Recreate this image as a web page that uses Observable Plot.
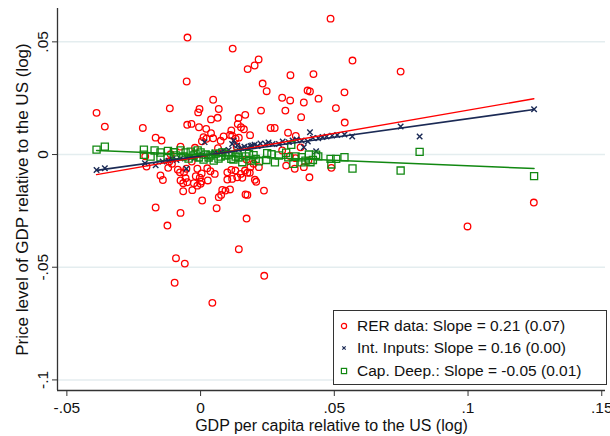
<!DOCTYPE html>
<html>
<head>
<meta charset="utf-8">
<script src="https://cdn.jsdelivr.net/npm/d3@7"></script>
<script src="https://cdn.jsdelivr.net/npm/@observablehq/plot@0.6"></script>
<style>
  html, body { margin: 0; padding: 0; background: #fff; }
  #wrap { position: relative; width: 610px; height: 436px; font-family: "Liberation Sans", Arial, sans-serif; }
  #legend { position: absolute; left: 333px; top: 310px; width: 274px; height: 75px; border: 1px solid #333; background: #fff; box-sizing: border-box; font-size: 15.5px; color: #111; }
  .row { position: absolute; left: 0; height: 20px; line-height: 20px; white-space: nowrap; }
  .row svg { position: absolute; left: 5px; top: 5px; }
  .row span { position: absolute; left: 23px; top: 0; }
</style>
</head>
<body>
<div id="wrap"></div>
<script>
// ---- Data ----
const rerPoints = [[0.0486,0.0603],[-0.0049,0.0519],[0.0120,0.0470],[0.0217,0.0422],[0.0202,0.0395],[0.0568,0.0417],[0.0176,0.0379],[0.0748,0.0368],[0.0336,0.0352],[0.0422,0.0357],[-0.0052,0.0324],[0.0232,0.0315],[0.0247,0.0281],[0.0400,0.0284],[0.0409,0.0280],[0.0538,0.0276],[0.0047,0.0243],[0.0305,0.0252],[0.0335,0.0240],[0.0441,0.0248],[0.0386,0.0231],[-0.0115,0.0205],[-0.0004,0.0202],[-0.0009,0.0187],[0.0068,0.0202],[-0.0389,0.0185],[0.0226,0.0195],[0.0317,0.0195],[0.0506,0.0206],[0.0039,0.0156],[0.0064,0.0163],[0.0167,0.0176],[0.0142,0.0162],[0.0376,0.0166],[0.0539,0.0142],[-0.0358,0.0124],[-0.0216,0.0118],[-0.0050,0.0132],[-0.0034,0.0136],[-0.0006,0.0121],[0.0021,0.0114],[0.0115,0.0107],[0.0139,0.0135],[0.0151,0.0121],[0.0162,0.0112],[0.0262,0.0118],[0.0277,0.0118],[-0.0168,0.0075],[-0.0146,0.0062],[0.0039,0.0095],[0.0011,0.0077],[0.0022,0.0070],[0.0005,0.0059],[0.0047,0.0072],[0.0086,0.0080],[0.0110,0.0087],[0.0118,0.0084],[0.0131,0.0070],[0.0143,0.0075],[0.0075,0.0061],[0.0185,0.0086],[0.0327,0.0097],[0.0356,0.0083],[-0.0075,0.0035],[-0.0021,0.0030],[0.0135,0.0035],[0.0065,0.0028],[0.0305,0.0018],[0.0334,-0.0006],[-0.0112,0.0001],[-0.0207,-0.0008],[0.0374,0.0032],[-0.0117,-0.0031],[-0.0107,-0.0041],[-0.0033,-0.0031],[-0.0202,-0.0053],[-0.0085,-0.0067],[-0.0062,-0.0079],[-0.0012,-0.0063],[0.0004,-0.0084],[0.0025,-0.0061],[0.0037,-0.0074],[0.0053,-0.0086],[0.0100,-0.0079],[0.0115,-0.0068],[0.0130,-0.0071],[0.0150,-0.0086],[0.0175,-0.0081],[-0.0150,-0.0093],[-0.0141,-0.0113],[-0.0075,-0.0115],[-0.0056,-0.0105],[-0.0003,-0.0103],[0.0003,-0.0120],[0.0027,-0.0115],[-0.0012,-0.0138],[0.0100,-0.0111],[0.0118,-0.0108],[0.0137,-0.0101],[0.0156,-0.0103],[-0.0065,-0.0163],[-0.0031,-0.0158],[0.0081,-0.0157],[0.0110,-0.0155],[0.0172,-0.0022],[0.0198,-0.0041],[0.0186,-0.0056],[0.0218,-0.0056],[0.0184,-0.0081],[0.0203,-0.0112],[0.0208,-0.0121],[0.0237,-0.0160],[0.0320,-0.0049],[0.0403,-0.0027],[0.0386,-0.0056],[0.0407,-0.0101],[0.0489,-0.0059],[0.0355,-0.0016],[0.0168,-0.0177],[0.0000,-0.0130],[-0.0025,-0.0127],[-0.0050,-0.0123],[-0.0065,-0.0127],[-0.0121,-0.0059],[-0.0077,-0.0079],[-0.0053,-0.0063],[-0.0018,-0.0096],[0.0006,-0.0204],[0.0068,-0.0189],[0.0077,-0.0179],[0.0093,-0.0160],[0.0175,-0.0179],[-0.0168,-0.0235],[-0.0075,-0.0259],[0.0060,-0.0238],[0.0172,-0.0284],[-0.0124,-0.0315],[0.0143,-0.0420],[-0.0092,-0.0460],[-0.0059,-0.0484],[0.0238,-0.0538],[-0.0097,-0.0569],[0.0044,-0.0658],[0.1246,-0.0213],[0.0998,-0.0319],[0.0352,-0.0063],[0.0166,-0.0071]];

const intPoints = [[-0.0389,-0.0069],[-0.0358,-0.0061],[-0.0208,-0.0039],[-0.0168,-0.0048],[-0.0142,-0.0031],[-0.0120,-0.0027],[-0.0105,-0.0020],[-0.0090,-0.0024],[-0.0075,-0.0018],[-0.0053,-0.0063],[-0.0052,-0.0013],[-0.0037,-0.0011],[-0.0022,-0.0016],[-0.0007,-0.0004],[0.0007,-0.0002],[0.0015,0.0055],[0.0022,-0.0007],[0.0037,0.0004],[0.0052,0.0009],[0.0064,0.0004],[0.0075,0.0011],[0.0086,0.0018],[0.0097,0.0013],[0.0105,0.0020],[0.0118,0.0047],[0.0124,0.0062],[0.0137,0.0040],[0.0142,0.0022],[0.0153,0.0029],[0.0164,0.0035],[0.0176,0.0031],[0.0187,0.0038],[0.0193,0.0040],[0.0202,0.0044],[0.0213,0.0038],[0.0224,0.0049],[0.0243,0.0047],[0.0254,0.0053],[0.0269,0.0047],[0.0293,0.0047],[0.0307,0.0058],[0.0330,0.0055],[0.0344,0.0062],[0.0359,0.0067],[0.0378,0.0062],[0.0386,0.0032],[0.0401,0.0058],[0.0409,0.0099],[0.0420,0.0074],[0.0432,0.0015],[0.0440,0.0072],[0.0456,0.0078],[0.0471,0.0080],[0.0492,0.0084],[0.0511,0.0087],[0.0538,0.0089],[0.0567,0.0080],[0.0748,0.0124],[0.0819,0.0080],[0.1247,0.0201]];

const capPoints = [[-0.0389,0.0022],[-0.0358,0.0035],[-0.0212,0.0022],[-0.0212,-0.0001],[-0.0172,0.0018],[-0.0187,-0.0009],[-0.0150,0.0009],[-0.0150,-0.0013],[-0.0122,0.0016],[-0.0100,0.0010],[-0.0093,-0.0004],[-0.0075,0.0018],[-0.0064,-0.0009],[-0.0056,0.0009],[-0.0045,-0.0018],[-0.0037,0.0013],[-0.0026,-0.0004],[-0.0019,0.0004],[-0.0011,0.0018],[-0.0007,-0.0013],[0.0000,0.0009],[0.0011,-0.0022],[0.0019,0.0000],[0.0030,-0.0013],[0.0037,-0.0004],[0.0049,-0.0027],[0.0056,0.0004],[0.0067,-0.0018],[0.0075,-0.0009],[0.0082,0.0009],[0.0093,-0.0004],[0.0105,0.0000],[0.0115,-0.0019],[0.0123,-0.0022],[0.0131,-0.0009],[0.0138,0.0004],[0.0142,-0.0013],[0.0156,-0.0034],[0.0168,-0.0008],[0.0181,0.0003],[0.0187,-0.0027],[0.0198,-0.0003],[0.0206,-0.0019],[0.0218,-0.0030],[0.0246,-0.0024],[0.0249,0.0006],[0.0265,0.0001],[0.0278,-0.0035],[0.0293,-0.0004],[0.0320,0.0008],[0.0328,-0.0012],[0.0339,0.0043],[0.0347,-0.0041],[0.0355,-0.0008],[0.0378,-0.0012],[0.0378,-0.0035],[0.0392,-0.0027],[0.0405,0.0000],[0.0411,-0.0034],[0.0420,-0.0024],[0.0432,-0.0001],[0.0440,-0.0008],[0.0486,-0.0019],[0.0489,-0.0044],[0.0507,-0.0019],[0.0538,-0.0012],[0.0568,-0.0062],[0.0748,-0.0071],[0.0819,0.0012],[0.1247,-0.0096]];

const seriesNames = ["RER data: Slope = 0.21 (0.07)", "Int. Inputs: Slope = 0.16 (0.00)", "Cap. Deep.: Slope = -0.05 (0.01)"];
const seriesColors = ["#ff0000", "#1b2a55", "#118811"];
const fitSlopes = [0.206, 0.165, -0.049];
const fitIntercepts = [-0.0009, -0.0006, -0.0001];

const xTicks = [-0.05, 0, 0.05, 0.1, 0.15];
const xTickLabels = ["-.05", "0", ".05", ".1", ".15"];
const yTicks = [-0.1, -0.05, 0, 0.05];
const yTickLabels = ["-.1", "-.05", "0", ".05"];
const xTitle = "GDP per capita relative to the US (log)";
const yTitle = "Price level of GDP relative to the US (log)";

// ---- Build ----
const toObj = p => ({x: p[0], y: p[1]});
const rer = rerPoints.map(toObj), ints = intPoints.map(toObj), caps = capPoints.map(toObj);
function fitLine(pts, k) {
  const [x0, x1] = d3.extent(pts, d => d.x);
  return [x0, x1].map(x => ({x, y: fitIntercepts[k] + fitSlopes[k] * x}));
}

const xDomain = [-0.0535, 0.1514];
const yDomain = [-0.1047, 0.0648];

const chart = Plot.plot({
  width: 610, height: 436,
  marginLeft: 57, marginRight: 5, marginTop: 8, marginBottom: 46,
  style: {fontFamily: '"Liberation Sans", Arial, sans-serif', background: "#fff"},
  x: {domain: xDomain},
  y: {domain: yDomain},
  marks: [
    Plot.gridY(yTicks, {stroke: "#e4edef", strokeOpacity: 1, strokeWidth: 1.5}),
    Plot.dot(rer, {x: "x", y: "y", symbol: "circle", r: 3.3, stroke: seriesColors[0], strokeWidth: 1.3, fill: "none"}),
    Plot.dot(ints, {x: "x", y: "y", symbol: "times", r: 2.6, stroke: seriesColors[1], strokeWidth: 1.4, fill: "none"}),
    Plot.dot(caps, {x: "x", y: "y", symbol: "square", r: 4, stroke: seriesColors[2], strokeWidth: 1.3, fill: "none"}),
    Plot.line(fitLine(rer, 0), {x: "x", y: "y", stroke: seriesColors[0], strokeWidth: 1.4}),
    Plot.line(fitLine(ints, 1), {x: "x", y: "y", stroke: seriesColors[1], strokeWidth: 1.6}),
    Plot.line(fitLine(caps, 2), {x: "x", y: "y", stroke: seriesColors[2], strokeWidth: 1.4}),
    Plot.ruleX([xDomain[0]], {stroke: "#333", strokeWidth: 1.3}),
    Plot.ruleY([yDomain[0]], {stroke: "#333", strokeWidth: 1.3}),
    Plot.axisX(xTicks, {tickSize: 6, tickPadding: 5, fontSize: 15.5, stroke: "#333", fill: "#111",
      tickFormat: (d) => xTickLabels[xTicks.indexOf(d)], label: null}),
    Plot.axisY(yTicks, {tickSize: 5, tickFormat: () => "", label: null, stroke: "#333"}),
    Plot.text(yTicks.map((v, i) => ({v, t: yTickLabels[i]})), {y: "v", text: "t", frameAnchor: "left", dx: -10,
      rotate: -90, textAnchor: "middle", lineAnchor: "bottom", fontSize: 15.5, fill: "#111"}),
    Plot.text([yTitle], {frameAnchor: "left", dx: -30, rotate: -90, textAnchor: "middle", lineAnchor: "bottom", fontSize: 17, fill: "#111"}),
    Plot.text([xTitle], {frameAnchor: "bottom", dy: 40, textAnchor: "middle", lineAnchor: "bottom", fontSize: 16, fill: "#111"})
  ]
});

const wrap = document.getElementById("wrap");
wrap.appendChild(chart);

// Legend overlay inside plot area
const legend = document.createElement("div");
legend.id = "legend";
const rowTops = [5, 27, 50];
const icons = [
  c => `<circle cx="5" cy="5" r="2.6" fill="none" stroke="${c}" stroke-width="1.2"/>`,
  c => `<path d="M3.3,3.3L6.7,6.7M6.7,3.3L3.3,6.7" stroke="${c}" stroke-width="1.2"/>`,
  c => `<rect x="2.4" y="2.4" width="5.2" height="5.2" fill="none" stroke="${c}" stroke-width="1.2"/>`
];
seriesNames.forEach((name, i) => {
  const row = document.createElement("div");
  row.className = "row";
  row.style.top = rowTops[i] + "px";
  row.innerHTML = `<svg width="10" height="10">${icons[i](seriesColors[i])}</svg><span>${name}</span>`;
  legend.appendChild(row);
});
wrap.appendChild(legend);
</script>
</body>
</html>
